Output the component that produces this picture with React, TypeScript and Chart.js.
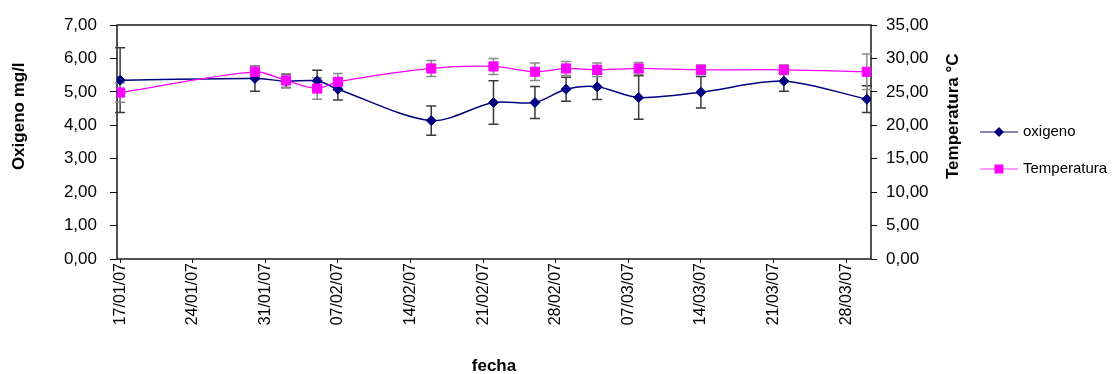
import React, { useEffect, useRef } from 'react';
import { Chart, registerables } from 'chart.js';

Chart.register(...registerables);

const FONT = '"Liberation Sans", Arial, Helvetica, sans-serif';
Chart.defaults.font.family = FONT;
Chart.defaults.color = '#000';

// Sampling dates (dd/mm/yy)
const sampleDates = [
  '17/01/07', '30/01/07', '02/02/07', '05/02/07', '07/02/07', '16/02/07', '22/02/07',
  '26/02/07', '01/03/07', '04/03/07', '08/03/07', '14/03/07', '22/03/07', '30/03/07',
];

// Dissolved oxygen (mg/l) and its deviation
const oxigeno = [5.35, 5.40, 5.32, 5.33, 5.08, 4.14, 4.68, 4.68, 5.08, 5.15, 4.83, 4.99, 5.32, 4.78];
const oxigenoErr = [0.97, 0.38, 0.20, 0.32, 0.32, 0.44, 0.65, 0.48, 0.36, 0.38, 0.65, 0.47, 0.30, 0.40];

// Water temperature (°C) and its deviation
const temperatura = [24.9, 28.0, 26.7, 25.5, 26.5, 28.5, 28.8, 28.0, 28.5, 28.3, 28.5, 28.3, 28.3, 28.0];
const temperaturaErr = [1.45, 0.9, 1.0, 1.6, 1.25, 1.2, 1.2, 1.3, 1.05, 1.0, 0.9, 0.7, 0.7, 2.65];

// Weekly date ticks
const xTickLabels = [
  '17/01/07', '24/01/07', '31/01/07', '07/02/07', '14/02/07', '21/02/07',
  '28/02/07', '07/03/07', '14/03/07', '21/03/07', '28/03/07',
];

const DAY = 86400000;
const parseDate = (s: string) => {
  const [d, m, y] = s.split('/').map(Number);
  return Date.UTC(2000 + y, m - 1, d);
};
const origin = parseDate(xTickLabels[0]);
const toDay = (s: string) => Math.round((parseDate(s) - origin) / DAY);

const sampleDays = sampleDates.map(toDay);
const tickDays = xTickLabels.map(toDay);

const fmt = (v: number) => v.toFixed(2).replace('.', ',');

const OXY_COLOR = '#000080';
const TEMP_COLOR = '#ff00ff';

// Vertical error bars with caps, drawn under the series
const errorBars = {
  id: 'errorBars',
  beforeDatasetsDraw(chart: any) {
    const { ctx } = chart;
    const xs = chart.scales.x;
    const groups = [
      { axis: 'y', values: oxigeno, errs: oxigenoErr, color: '#3a3a3a' },
      { axis: 'y2', values: temperatura, errs: temperaturaErr, color: '#8a8a8a' },
    ];
    ctx.save();
    ctx.lineWidth = 1.5;
    groups.forEach((g) => {
      const ys = chart.scales[g.axis];
      ctx.strokeStyle = g.color;
      g.values.forEach((v, i) => {
        const px = xs.getPixelForValue(sampleDays[i]);
        const top = ys.getPixelForValue(v + g.errs[i]);
        const bot = ys.getPixelForValue(v - g.errs[i]);
        ctx.beginPath();
        ctx.moveTo(px, top);
        ctx.lineTo(px, bot);
        ctx.moveTo(px - 5, top);
        ctx.lineTo(px + 5, top);
        ctx.moveTo(px - 5, bot);
        ctx.lineTo(px + 5, bot);
        ctx.stroke();
      });
    });
    ctx.restore();
  },
};

// Closed frame around the plot area
const plotFrame = {
  id: 'plotFrame',
  beforeDatasetsDraw(chart: any) {
    const { ctx, chartArea: a } = chart;
    ctx.save();
    ctx.strokeStyle = '#1a1a1a';
    ctx.lineWidth = 1.5;
    ctx.strokeRect(a.left, a.top, a.right - a.left, a.bottom - a.top);
    ctx.restore();
  },
};

// Both vertical axis titles, reading bottom to top
const sideTitles = {
  id: 'sideTitles',
  afterDraw(chart: any) {
    const { ctx, chartArea: a } = chart;
    const cy = a.top + (a.bottom - a.top) * 0.39;
    const draw = (text: string, x: number) => {
      ctx.save();
      ctx.translate(x, cy);
      ctx.rotate(-Math.PI / 2);
      ctx.font = `bold 17px ${FONT}`;
      ctx.fillStyle = '#000';
      ctx.textAlign = 'center';
      ctx.textBaseline = 'middle';
      ctx.fillText(text, 0, 0);
      ctx.restore();
    };
    draw('Oxigeno mg/l', chart.scales.y.left + 19.5);
    draw('Temperatura °C', chart.scales.y2.left + 82.5);
  },
};

function makeLegendIcon(lineColor: string, fill: string, shape: 'diamond' | 'square') {
  const c = document.createElement('canvas');
  c.width = 38;
  c.height = 12;
  const g = c.getContext('2d')!;
  g.strokeStyle = lineColor;
  g.lineWidth = 2;
  g.beginPath();
  g.moveTo(0, 6);
  g.lineTo(38, 6);
  g.stroke();
  g.fillStyle = fill;
  g.beginPath();
  if (shape === 'diamond') {
    g.moveTo(19, 1);
    g.lineTo(24, 6);
    g.lineTo(19, 11);
    g.lineTo(14, 6);
    g.closePath();
  } else {
    g.rect(14.5, 1.5, 9, 9);
  }
  g.fill();
  return c;
}

export default function App() {
  const canvasRef = useRef<HTMLCanvasElement>(null);

  useEffect(() => {
    if (!canvasRef.current) return;
    const icons = [
      makeLegendIcon('#8686bb', OXY_COLOR, 'diamond'),
      makeLegendIcon('#ff9cff', TEMP_COLOR, 'square'),
    ];

    const chart = new Chart(canvasRef.current, {
      type: 'line',
      data: {
        datasets: [
          {
            label: 'oxigeno',
            data: sampleDays.map((d, i) => ({ x: d, y: oxigeno[i] })),
            yAxisID: 'y',
            borderColor: OXY_COLOR,
            backgroundColor: OXY_COLOR,
            borderWidth: 1.5,
            pointStyle: 'rectRot',
            pointRadius: 5,
            pointBorderWidth: 1,
            pointBorderColor: OXY_COLOR,
            tension: 0.3,
            order: 1,
          },
          {
            label: 'Temperatura',
            data: sampleDays.map((d, i) => ({ x: d, y: temperatura[i] })),
            yAxisID: 'y2',
            borderColor: TEMP_COLOR,
            backgroundColor: TEMP_COLOR,
            borderWidth: 1.3,
            pointStyle: 'rect',
            pointRadius: 6.5,
            pointBorderWidth: 1,
            pointBorderColor: TEMP_COLOR,
            tension: 0.3,
            order: 0,
          },
        ],
      },
      options: {
        responsive: false,
        animation: false,
        layout: { padding: { top: 25, left: 0, right: 0, bottom: 0 } },
        scales: {
          x: {
            type: 'linear',
            min: -0.3,
            max: 72.4,
            afterBuildTicks: (s: any) => {
              s.ticks = tickDays.map((v) => ({ value: v }));
            },
            afterFit: (s: any) => {
              s.height = 115;
            },
            ticks: {
              autoSkip: false,
              minRotation: 90,
              maxRotation: 90,
              padding: 0,
              font: { size: 16 },
              color: '#000',
              callback: (_v: any, i: number) => xTickLabels[i],
            },
            grid: { display: true, drawOnChartArea: false, drawTicks: true, tickLength: 4, color: '#000' },
            border: { display: false },
            title: {
              display: true,
              text: 'fecha',
              color: '#000',
              font: { size: 17, weight: 'bold', lineHeight: 1 },
              padding: { top: 0, bottom: -1 },
            },
          },
          y: {
            type: 'linear',
            position: 'left',
            min: 0,
            max: 7,
            afterFit: (s: any) => {
              s.width = 117;
            },
            ticks: { stepSize: 1, padding: 13, font: { size: 17 }, color: '#000', callback: (v: any) => fmt(Number(v)) },
            grid: { display: true, drawOnChartArea: false, drawTicks: true, tickLength: 7, color: '#000' },
            border: { display: false },
          },
          y2: {
            type: 'linear',
            position: 'right',
            min: 0,
            max: 35,
            afterFit: (s: any) => {
              s.width = 89.5;
            },
            ticks: { stepSize: 5, padding: 9, font: { size: 17 }, color: '#000', callback: (v: any) => fmt(Number(v)) },
            grid: { display: true, drawOnChartArea: false, drawTicks: true, tickLength: 6, color: '#000' },
            border: { display: false },
          },
        },
        plugins: {
          tooltip: { enabled: false },
          legend: {
            position: 'right',
            fullSize: false,
            align: 'center',
            maxWidth: 151.5,
            title: { display: true, text: '', font: { size: 10, lineHeight: 1 }, padding: { top: 7, bottom: 0 } },
            labels: {
              usePointStyle: true,
              pointStyleWidth: 33,
              padding: 22,
              color: '#000',
              font: { size: 15 },
              generateLabels: (ch: any) => {
                const items = Chart.defaults.plugins.legend.labels.generateLabels(ch);
                return items
                  .sort((a: any, b: any) => a.datasetIndex - b.datasetIndex)
                  .map((it: any) => ({ ...it, pointStyle: icons[it.datasetIndex], lineWidth: 0 }));
              },
            },
          },
        },
      } as any,
      plugins: [plotFrame, errorBars, sideTitles],
    });

    return () => chart.destroy();
  }, []);

  return (
    <div style={{ position: 'fixed', left: 0, top: 0, width: 1112, height: 374, background: '#fff' }}>
      <canvas ref={canvasRef} width={1112} height={374} style={{ display: 'block' }} />
    </div>
  );
}
